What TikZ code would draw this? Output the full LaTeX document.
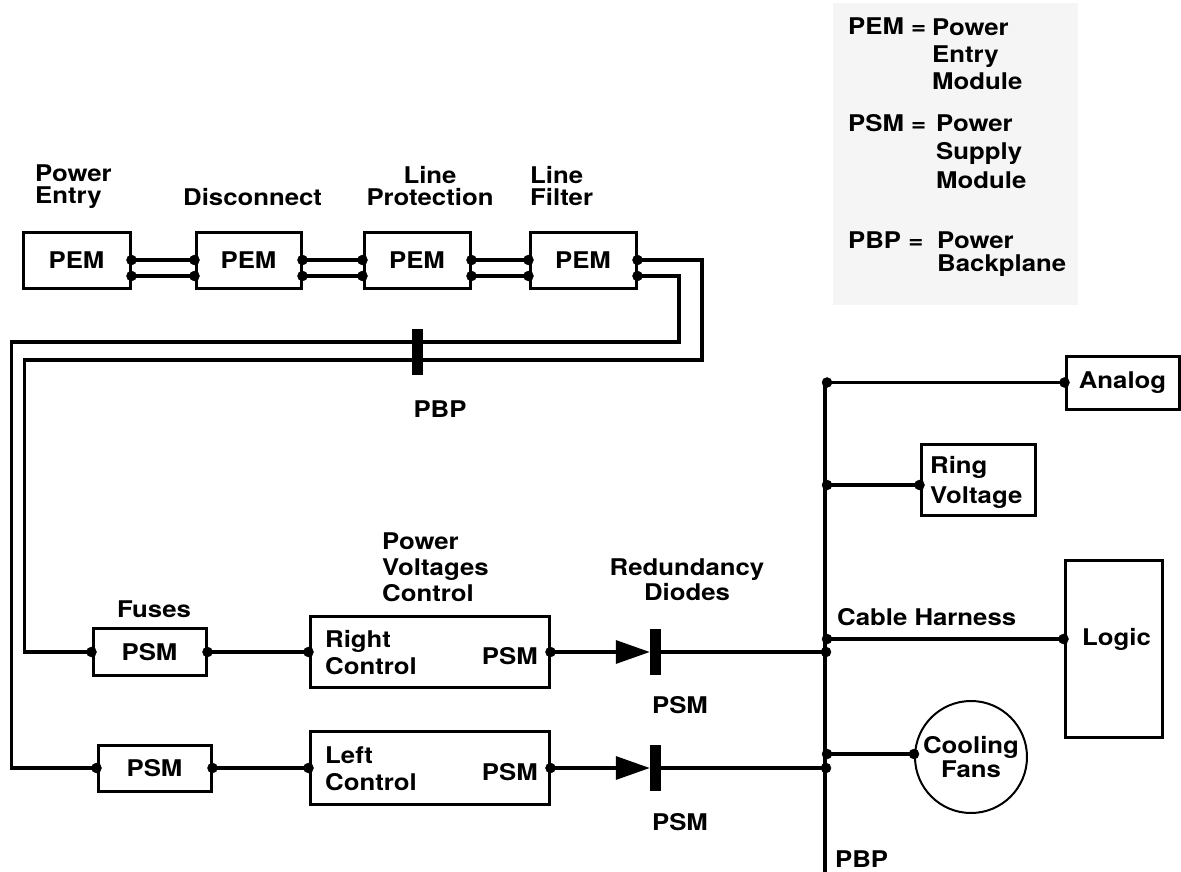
\documentclass[tikz,border=0pt]{standalone}
\usepackage{fontspec}
\setmainfont{TeX Gyre Heros}[FakeStretch=1.12]
\usetikzlibrary{arrows.meta}
\definecolor{legendgray}{gray}{0.96}
\newcommand\dgmfont[1]{\fontsize{23}{#1}\selectfont\bfseries}
\tikzset{
  box/.style={draw, line width=3pt, inner sep=0pt, font=\dgmfont{26}},
  wire/.style={line width=3.3pt},
  lbl/.style={inner sep=0pt, font=\dgmfont{#1}},
  lbl/.default=26,
  bar/.style={fill=black, inner sep=0pt, minimum width=11pt, minimum height=46pt},
  diode/.style={-{Triangle[length=34pt,width=23pt]}},
}
\begin{document}
\begin{tikzpicture}[x=1pt,y=-1pt]
\useasboundingbox (0,0) rectangle (1181,872);
% legend
\fill [legendgray] (833,3) rectangle (1078,305);
\node [lbl, anchor=base west] (keyPEM) at (848,35) {PEM =};
\node [lbl=27, anchor=base west, align=left] (valPEM) at (932,90) {Power\\Entry\\Module};
\node [lbl, anchor=base west] (keyPSM) at (848,132) {PSM =};
\node [lbl=28, anchor=base west, align=left] (valPSM) at (936,188) {Power\\Supply\\Module};
\node [lbl, anchor=base west] (keyPBP) at (848,248) {PBP =};
\node [lbl=23, anchor=base west, align=left] (valPBP) at (937,271) {Power\\Backplane};
% power entry modules
\node [box, minimum width=107pt, minimum height=56pt] (pemA) at (76.5,260) {PEM};
\node [box, minimum width=105pt, minimum height=56pt] (pemB) at (248.5,260) {PEM};
\node [box, minimum width=106pt, minimum height=56pt] (pemC) at (417,260) {PEM};
\node [box, minimum width=106pt, minimum height=56pt] (pemD) at (583,260) {PEM};
\node [lbl=22, anchor=base west, align=left] (lblEntry) at (35,204) {Power\\Entry};
\node [lbl, anchor=base west] (lblDisc) at (183,205) {Disconnect};
\node [lbl=22, anchor=base, align=center] (lblProt) at (430,205) {Line\\Protection};
\node [lbl=22, anchor=base west, align=left] (lblFilt) at (530,205) {Line\\Filter};
\draw [wire] (pemA.east) -- (pemB.west);
\draw [wire] ([yshift=-16pt]pemA.east) -- ([yshift=-16pt]pemB.west);
\draw [wire] (pemB.east) -- (pemC.west);
\draw [wire] ([yshift=-16pt]pemB.east) -- ([yshift=-16pt]pemC.west);
\draw [wire] (pemC.east) -- (pemD.west);
\draw [wire] ([yshift=-16pt]pemC.east) -- ([yshift=-16pt]pemD.west);
% power supply modules
\node [box, minimum width=113pt, minimum height=47pt] (psmF) at (149.5,652) {PSM};
\node [box, minimum width=113pt, minimum height=46pt] (psmL) at (154.5,768) {PSM};
\node [box, minimum width=239pt, minimum height=71pt] (rcu) at (429.5,652) {};
\node [box, minimum width=239pt, minimum height=73pt] (lcu) at (429.5,768) {};
\node [lbl=27, anchor=base west, align=left] (rcuTxt) at (325,674) {Right\\Control};
\node [lbl, anchor=base east] (rcuPSM) at (538,664) {PSM};
\node [lbl=27, anchor=base west, align=left] (lcuTxt) at (325,790) {Left\\Control};
\node [lbl, anchor=base east] (lcuPSM) at (538,780) {PSM};
\node [lbl, anchor=base] (lblFuses) at (154,617) {Fuses};
\node [lbl, anchor=base west, align=left] (lblPVC) at (382,601) {Power\\Voltages\\Control};
% feed from line filter through backplane
\draw [wire] (pemD.east) -| (702,360) -| ([xshift=-67pt]psmF.west) -- (psmF.west);
\draw [wire] ([yshift=-16pt]pemD.east) -| (679,342) -| ([xshift=-85pt]psmL.west) -- (psmL.west);
\node [bar] (pbpBar) at (417,352) {};
\node [lbl, anchor=base] (lblPBPtop) at (440,417) {PBP};
\draw [wire] (psmF.east) -- (rcu.west);
\draw [wire] (psmL.east) -- (lcu.west);
% redundancy diodes
\node [bar] (barA) at (655.5,652) {};
\node [bar] (barB) at (655.5,768) {};
\draw [wire, diode] (rcu.east) -- (barA.west);
\draw [wire, diode] (lcu.east) -- (barB.west);
\node [lbl=25, anchor=base, align=center] (lblRed) at (687,600) {Redundancy\\Diodes};
\node [lbl, anchor=base] (lblPSMa) at (680,713) {PSM};
\node [lbl, anchor=base] (lblPSMb) at (680,830) {PSM};
% cable harness
\coordinate (busTop) at (825,379);
\coordinate (busEnd) at (825,872);
\draw [wire] (busTop) -- (busEnd);
\node [lbl, anchor=base west] (lblHarness) at (837,625) {Cable Harness};
\node [lbl, anchor=base west] (lblPBPbot) at (835,867) {PBP};
\node [box, minimum width=113pt, minimum height=53pt] (analog) at (1122.5,382.5) {Analog};
\node [box, minimum width=114pt, minimum height=71pt] (ring) at (978,479.5) {};
\node [lbl=30, anchor=base west, align=left] (ringTxt) at (930,503) {Ring\\Voltage};
\node [box, minimum width=97pt, minimum height=177pt] (logic) at (1113.5,648.5) {};
\node [lbl, anchor=base west] (logicTxt) at (1082,645) {Logic};
\node [box, circle, line width=2pt, minimum size=112pt, align=center, font=\dgmfont{24}] (fans) at (971,757) {Cooling\\Fans};
\coordinate (ringIn) at ([yshift=-5.5pt]ring.west);
\coordinate (logicIn) at ([yshift=9.5pt]logic.west);
\coordinate (fansIn) at ([yshift=3pt]fans.west);
\draw [wire] (analog.west) -- (analog.west -| busTop);
\draw [wire] (ringIn) -- (ringIn -| busTop);
\draw [wire] (logicIn) -- (logicIn -| busTop);
\draw [wire] (fansIn) -- (fansIn -| busTop);
\draw [wire] (barA.east) -- (barA.east -| busTop);
\draw [wire] (barB.east) -- (barB.east -| busTop);
% terminals
\draw [fill=black] (pemA.east) circle (5pt);
\draw [fill=black] ([yshift=-16pt]pemA.east) circle (5pt);
\draw [fill=black] (pemB.west) circle (5pt);
\draw [fill=black] ([yshift=-16pt]pemB.west) circle (5pt);
\draw [fill=black] (pemB.east) circle (5pt);
\draw [fill=black] ([yshift=-16pt]pemB.east) circle (5pt);
\draw [fill=black] (pemC.west) circle (5pt);
\draw [fill=black] ([yshift=-16pt]pemC.west) circle (5pt);
\draw [fill=black] (pemC.east) circle (5pt);
\draw [fill=black] ([yshift=-16pt]pemC.east) circle (5pt);
\draw [fill=black] (pemD.west) circle (5pt);
\draw [fill=black] ([yshift=-16pt]pemD.west) circle (5pt);
\draw [fill=black] (pemD.east) circle (5pt);
\draw [fill=black] ([yshift=-16pt]pemD.east) circle (5pt);
\draw [fill=black] (psmF.west) circle (5pt);
\draw [fill=black] (psmF.east) circle (5pt);
\draw [fill=black] (psmL.west) circle (5pt);
\draw [fill=black] (psmL.east) circle (5pt);
\draw [fill=black] (rcu.west) circle (5pt);
\draw [fill=black] (rcu.east) circle (5pt);
\draw [fill=black] (lcu.west) circle (5pt);
\draw [fill=black] (lcu.east) circle (5pt);
\draw [fill=black] (analog.west) circle (5pt);
\draw [fill=black] (ringIn) circle (5pt);
\draw [fill=black] (logicIn) circle (5pt);
\draw [fill=black] (fansIn) circle (5pt);
\draw [fill=black] ([xshift=2pt]analog.west -| busTop) circle (5pt);
\draw [fill=black] ([xshift=2pt]ringIn -| busTop) circle (5pt);
\draw [fill=black] ([xshift=2pt]logicIn -| busTop) circle (5pt);
\draw [fill=black] ([xshift=2pt]fansIn -| busTop) circle (5pt);
\draw [fill=black] ([xshift=1pt]barA.east -| busTop) circle (5pt);
\draw [fill=black] ([xshift=1pt]barB.east -| busTop) circle (5pt);
\end{tikzpicture}
\end{document}
